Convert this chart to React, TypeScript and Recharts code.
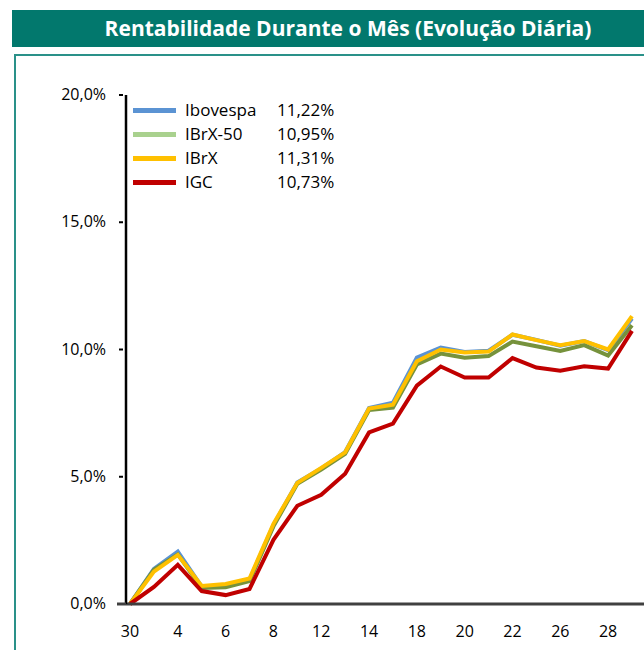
import React from 'react';
import { LineChart, Line, XAxis, YAxis, Legend } from 'recharts';

const days = ['30', '3', '4', '5', '6', '7', '8', '11', '12', '13', '14', '15', '18', '19', '20', '21', '22', '25', '26', '27', '28', '29'];
const ibovespa = [0, 1.38, 2.06, 0.68, 0.74, 0.95, 3.1, 4.78, 5.33, 5.97, 7.7, 7.91, 9.68, 10.08, 9.9, 9.95, 10.58, 10.38, 10.15, 10.33, 9.98, 11.22];
const ibrx50 = [0, 1.35, 1.95, 0.63, 0.66, 0.9, 3.05, 4.72, 5.28, 5.9, 7.62, 7.72, 9.41, 9.84, 9.68, 9.74, 10.31, 10.13, 9.94, 10.17, 9.76, 10.95];
const ibrx = [0, 1.27, 1.93, 0.71, 0.79, 1.0, 3.15, 4.76, 5.35, 5.96, 7.68, 7.83, 9.54, 10.0, 9.88, 9.92, 10.59, 10.37, 10.17, 10.33, 10.0, 11.31];
const igc = [0, 0.67, 1.54, 0.51, 0.35, 0.59, 2.52, 3.86, 4.29, 5.12, 6.74, 7.09, 8.58, 9.33, 8.9, 8.9, 9.66, 9.29, 9.17, 9.34, 9.25, 10.73];
const yTicks = [0, 5, 10, 15, 20];

const seriesKeys = ['ibovespa', 'ibrx50', 'ibrx', 'igc'];
const seriesNames = ['Ibovespa', 'IBrX-50', 'IBrX', 'IGC'];
const lineColors = ['#5B93D3', '#76923C', '#FFC000', '#C00000'];
const legendColors = ['#5B93D3', '#A9D18E', '#FFC000', '#C00000'];
const legendValues = ['11,22%', '10,95%', '11,31%', '10,73%'];

const data = days.map((d, i) => ({
  day: d,
  ibovespa: ibovespa[i],
  ibrx50: ibrx50[i],
  ibrx: ibrx[i],
  igc: igc[i],
}));

const FONT = '"Open Sans", "Noto Sans", sans-serif';

const fmt = (v: number) => v.toFixed(1).replace('.', ',') + '%';

const YTick = (props: any) => {
  const { x, y, payload } = props;
  return (
    <g>
      {payload.value === 0 ? (
        <line x1={x - 9} x2={x} y1={y} y2={y} stroke="#404040" strokeWidth={3} />
      ) : (
        <line x1={x - 7} x2={x - 3} y1={y} y2={y} stroke="#000" strokeWidth={2} />
      )}
      <text x={x - 20} y={y} dy={5} textAnchor="end" fill="#000" fontSize={16} fontFamily={FONT}>
        {fmt(payload.value)}
      </text>
    </g>
  );
};

const LegendContent = () => (
  <div style={{ fontFamily: FONT, fontSize: 17, color: '#000' }}>
    {seriesNames.map((n, i) => (
      <div key={n} style={{ position: 'relative', height: 24 }}>
        <div style={{ position: 'absolute', left: 0, top: 10, width: 43, height: 5, background: legendColors[i] }} />
        <div style={{ position: 'absolute', left: 52, top: 0, lineHeight: '24px' }}>{n}</div>
        <div style={{ position: 'absolute', left: 144, top: 0, lineHeight: '24px' }}>{legendValues[i]}</div>
      </div>
    ))}
  </div>
);

export default function App() {
  return (
    <div style={{ position: 'absolute', left: 0, top: 0, width: 644, height: 650, overflow: 'hidden', background: '#fff' }}>
      <div
        style={{
          position: 'absolute',
          left: 12,
          top: 10,
          width: 672,
          height: 37,
          background: '#02786D',
          color: '#fff',
          fontFamily: FONT,
          fontWeight: 700,
          fontSize: 21,
          lineHeight: '37px',
          textAlign: 'center',
        }}
      >
        Rentabilidade Durante o Mês (Evolução Diária)
      </div>
      <div
        style={{
          position: 'absolute',
          left: 14,
          top: 54,
          width: 700,
          height: 700,
          borderTop: '2px solid #2A9189',
          borderLeft: '2px solid #2A9189',
        }}
      />
      <div style={{ position: 'absolute', left: 0, top: 0 }}>
        <LineChart width={660} height={650} data={data} margin={{ top: 95, right: 0, bottom: 16, left: 0 }}>
          <XAxis
            dataKey="day"
            interval={1}
            height={30}
            padding={{ left: 4, right: 28 }}
            tickLine={false}
            tickSize={0}
            tickMargin={22}
            axisLine={{ stroke: '#404040', strokeWidth: 3 }}
            tick={{ fill: '#000', fontSize: 16, fontFamily: FONT }}
          />
          <YAxis
            width={126}
            domain={[0, 20]}
            ticks={yTicks}
            interval={0}
            tickLine={false}
            tickSize={0}
            tickMargin={0}
            axisLine={{ stroke: '#000', strokeWidth: 2.5 }}
            tick={<YTick />}
          />
          <Legend
            layout="horizontal"
            verticalAlign="middle"
            align="center"
            content={<LegendContent />}
            wrapperStyle={{ position: 'absolute', left: 133, top: 98, width: 240, height: 96 }}
          />
          {seriesKeys.map((k, i) => (
            <Line
              key={k}
              type="linear"
              dataKey={k}
              name={seriesNames[i]}
              stroke={lineColors[i]}
              strokeWidth={4}
              dot={false}
              activeDot={false}
              isAnimationActive={false}
            />
          ))}
        </LineChart>
      </div>
    </div>
  );
}
